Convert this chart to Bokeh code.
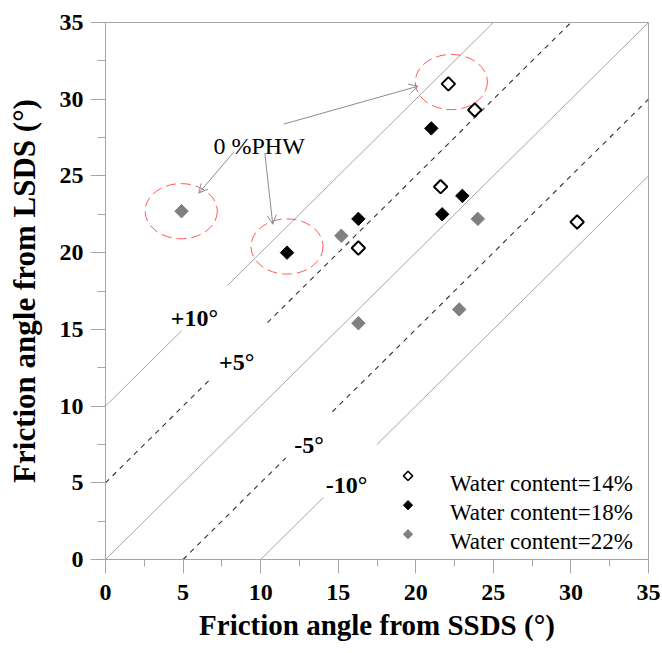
import numpy as np
from bokeh.plotting import figure
from bokeh.models import Range1d, SingleIntervalTicker, Arrow, OpenHead
from bokeh.core.properties import value
from bokeh.embed import file_html
from bokeh.resources import INLINE

# ---------------- data ----------------
ssds_14 = [22.1, 23.8, 21.6, 16.3, 30.4]
lsds_14 = [31.0, 29.3, 24.3, 20.3, 22.0]
ssds_18 = [21.0, 23.0, 21.7, 16.3, 11.7]
lsds_18 = [28.1, 23.7, 22.5, 22.2, 20.0]
ssds_22 = [4.9, 15.2, 24.0, 22.8, 16.3]
lsds_22 = [22.7, 21.1, 22.2, 16.3, 15.4]
series_labels = ["Water content=14%", "Water content=18%", "Water content=22%"]

# reference lines  y = x + offset
offsets = [10, 5, 0, -5, -10]
offset_labels = ["+10°", "+5°", "", "-5°", "-10°"]
tick_values = [0, 5, 10, 15, 20, 25, 30, 35]

# 0 %PHW highlighted points (ellipse centres)
phw_x = [4.88, 11.7, 22.29]
phw_y = [22.7, 20.4, 31.12]
phw_label = "0 %PHW"

FONT = "Liberation Serif"
GREY = "#a6a6a6"

p = figure(width=662, height=653, output_backend="svg", toolbar_location=None,
           x_range=Range1d(0, 35), y_range=Range1d(0, 35),
           min_border_left=105, min_border_right=14, min_border_top=22,
           min_border_bottom=94)
p.background_fill_color = "white"
p.border_fill_color = "white"
p.xgrid.visible = False
p.ygrid.visible = False
p.outline_line_color = GREY
p.outline_line_width = 1

for ax, lab, fs in ((p.xaxis[0], "Friction angle from SSDS (°)", "29px"),
                    (p.yaxis[0], "Friction angle from LSDS (°)", "31px")):
    ax.ticker = SingleIntervalTicker(interval=5, num_minor_ticks=2)
    ax.axis_label = lab
    ax.axis_label_text_font = FONT
    ax.axis_label_text_font_style = "bold"
    ax.axis_label_text_font_size = fs
    ax.axis_label_text_color = "black"
    ax.major_label_text_font = FONT
    ax.major_label_text_font_style = "bold"
    ax.major_label_text_font_size = "24px"
    ax.major_label_text_color = "black"
    ax.axis_line_color = GREY
    ax.major_tick_line_color = GREY
    ax.minor_tick_line_color = GREY
    ax.major_tick_in = 0
    ax.minor_tick_in = 0

p.xaxis.major_tick_out = 14
p.xaxis.minor_tick_out = 7
p.yaxis.major_tick_out = 15
p.yaxis.minor_tick_out = 8
p.xaxis.major_label_standoff = 11
p.xaxis.axis_label_standoff = 6
p.yaxis.major_label_standoff = 7
p.yaxis.axis_label_standoff = 15

# reference lines with gaps for their labels
gap_lo = [4.92, 6.85, None, 11.62, 14.05]
gap_hi = [7.86, 10.44, None, 14.63, 17.49]
for off, glo, ghi in zip(offsets, gap_lo, gap_hi):
    xs0 = max(0, -off)
    xs1 = min(35, 35 - off)
    parts = [(xs0, xs1)] if glo is None else [(xs0, glo), (ghi, xs1)]
    x0 = [a for a, b in parts]
    x1 = [b for a, b in parts]
    y0 = [a + off for a in x0]
    y1 = [b + off for b in x1]
    if off in (5, -5):
        p.segment(x0, y0, x1, y1, line_color="#303030", line_width=1.1, line_dash="5 5")
    else:
        p.segment(x0, y0, x1, y1, line_color=GREY, line_width=1)

# labels of reference lines
lab_x = [4.21, 7.32, 12.16, 14.2]
lab_y = [15.75, 12.88, 7.45, 4.84]
lab_t = [t for t in offset_labels if t]
p.text(x=lab_x, y=lab_y, text=lab_t, text_font=value(FONT), text_font_style="bold",
       text_font_size=value("24px"), text_align="left", text_baseline="alphabetic",
       text_color="black")

# red dashed ellipses around 0 %PHW points
p.ellipse(x=phw_x, y=phw_y, width=4.65, height=3.6, fill_color=None,
          line_color="#ff5a5a", line_width=1, line_dash="10 5")

# annotation text + arrows
p.text(x=[6.96], y=[26.93], text=[phw_label], text_font=value(FONT),
       text_font_size=value("24px"), text_align="left", text_baseline="alphabetic",
       text_color="black")
arrows = [((8.27, 26.55), (6.01, 23.88)),
          ((10.27, 26.48), (10.78, 21.85)),
          ((11.49, 28.38), (20.15, 30.85))]
for (xs, ys), (xe, ye) in arrows:
    p.add_layout(Arrow(end=OpenHead(size=9, line_color="#8c8c8c", line_width=1),
                       x_start=xs, y_start=ys, x_end=xe, y_end=ye,
                       line_color="#8c8c8c", line_width=1))

# data points (diamonds = squares turned by 45 degrees)
ANG = np.pi / 4
styles = [dict(fill_color="white", line_color="black", line_width=2),
          dict(fill_color="black", line_color="black", line_width=1),
          dict(fill_color="#808080", line_color="#808080", line_width=1)]
series_x = [ssds_14, ssds_18, ssds_22]
series_y = [lsds_14, lsds_18, lsds_22]
for sx, sy, st in zip(series_x, series_y, styles):
    p.scatter(sx, sy, marker="square", angle=ANG, size=9.5, **st)

# legend (drawn with the same diamond markers)
leg_mx = 19.5
leg_tx = 22.2
leg_y = [5.45, 3.54, 1.65]
for yy, st, lab in zip(leg_y, styles, series_labels):
    st2 = dict(st)
    st2["line_width"] = 1.5 if st["fill_color"] == "white" else 1
    p.scatter([leg_mx], [yy], marker="square", angle=ANG, size=6.5, **st2)
    p.text(x=[leg_tx], y=[yy - 0.47], text=[lab], text_font=value(FONT),
           text_font_size=value("23px"), text_align="left",
           text_baseline="alphabetic", text_color="black")

open("out.html", "w").write(file_html(p, INLINE))
